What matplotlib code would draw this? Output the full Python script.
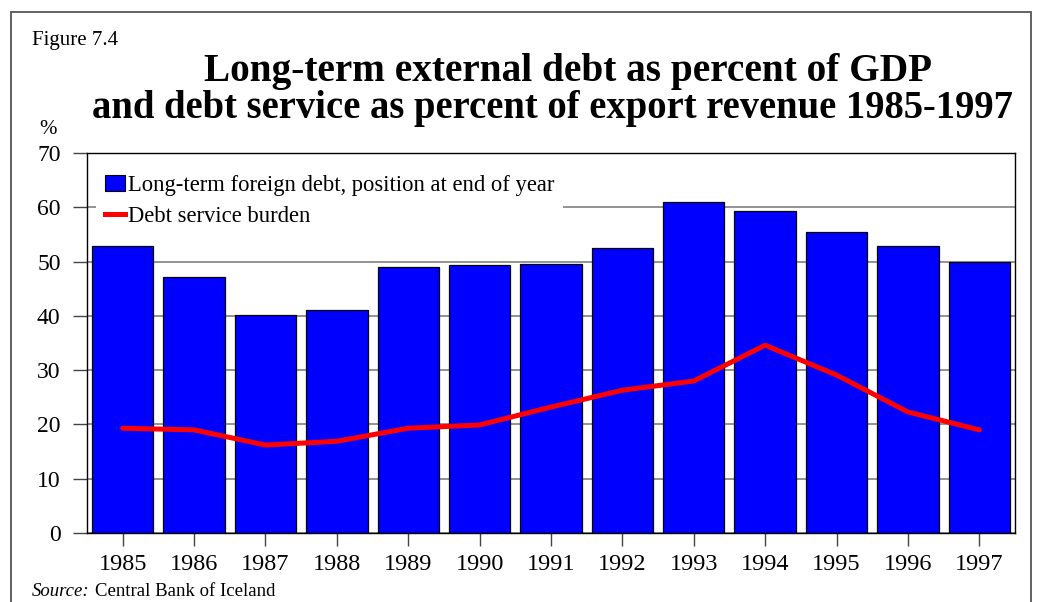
import matplotlib
matplotlib.use("Agg")
import matplotlib.pyplot as plt
from matplotlib.patches import Rectangle
from matplotlib.lines import Line2D

years = ["1985", "1986", "1987", "1988", "1989", "1990", "1991", "1992", "1993", "1994", "1995", "1996", "1997"]
debt_gdp = [52.9, 47.2, 40.1, 41.1, 49.0, 49.4, 49.5, 52.5, 61.0, 59.3, 55.4, 52.9, 49.9]
debt_service = [19.3, 19.0, 16.2, 16.9, 19.3, 19.9, 23.2, 26.3, 28.0, 34.6, 29.1, 22.3, 19.0]
yticks = [0, 10, 20, 30, 40, 50, 60, 70]

plt.rcParams['font.family'] = ['Liberation Serif', 'DejaVu Serif']

W, H = 1037, 602
fig = plt.figure(figsize=(W / 100, H / 100), dpi=100)
ax = fig.add_axes([87 / W, 1 - 533 / H, (1015 - 87) / W, (533 - 153) / H])

x = list(range(len(years)))
ax.set_axisbelow(True)
ax.yaxis.grid(True, color='#808080', linewidth=1.2)
ax.bar(x, debt_gdp, width=0.86, color='#0000ff', edgecolor='black', linewidth=0.9, zorder=2)
ax.plot(x, debt_service, color='#ff0000', linewidth=3.6, solid_capstyle='round', zorder=3)

ax.set_xlim(-0.5, len(years) - 0.5)
ax.set_ylim(0, 70)
ax.set_yticks(yticks)
ax.set_yticklabels([str(v) for v in yticks], fontsize=17)
ax.set_xticks(x)
ax.set_xticklabels(years, fontsize=17.5)
ax.tick_params(axis='y', direction='out', length=10, width=1, color='#444444', pad=9)
ax.tick_params(axis='x', direction='out', length=9, width=1, color='#444444', pad=6)
for s in ax.spines.values():
    s.set_color('black')
    s.set_linewidth(1.0)

handles = [Rectangle((0, 0), 1, 1, facecolor='#0000ff', edgecolor='black', linewidth=0.8),
           Line2D([0], [0], color='#ff0000', linewidth=3.6)]
leg = ax.legend(handles, ["Long-term foreign debt, position at end of year", "Debt service burden"],
                loc='upper left', bbox_to_anchor=(0.002, 0.985), frameon=True, fontsize=16.3,
                handlelength=0.9, handleheight=0.7, handletextpad=0.12, labelspacing=0.48,
                borderaxespad=0.3, borderpad=0.4, fancybox=False)
leg.get_frame().set_edgecolor('none')
leg.get_frame().set_facecolor('white')
leg.get_frame().set_alpha(1.0)
leg.set_zorder(5)

fig.text(32 / W, 1 - 40 / H, "Figure 7.4", fontsize=15, ha='left', va='center')
fig.text(568 / W, 1 - 72 / H, "Long-term external debt as percent of GDP", fontsize=28.3,
         fontweight='bold', ha='center', va='center')
fig.text(553 / W, 1 - 108 / H, "and debt service as percent of export revenue 1985-1997", fontsize=27.8,
         fontweight='bold', ha='center', va='center')
fig.text(48 / W, 1 - 130 / H, "%", fontsize=15, ha='center', va='center')
t1 = fig.text(32 / W, 1 - 592 / H, "Source:", fontsize=13.5, style='italic', ha='left', va='center')
fig.canvas.draw()
bb = t1.get_window_extent()
fig.text((bb.x1 + 5) / W, 1 - 592 / H, "Central Bank of Iceland", fontsize=13.5, ha='left', va='center')

fig.add_artist(Rectangle((11 / W, -0.05), (1031 - 11) / W, 1 - 12 / H + 0.05, transform=fig.transFigure,
                         fill=False, edgecolor='#555555', linewidth=1.3))

fig.savefig("out.png", dpi=100)
